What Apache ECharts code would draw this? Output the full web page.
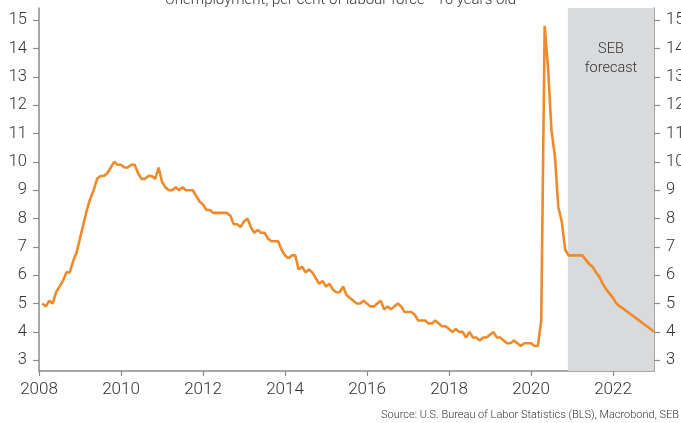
<!DOCTYPE html>
<html><head><meta charset="utf-8">
<script src="https://cdn.jsdelivr.net/npm/echarts@6/dist/echarts.min.js"></script>
<style>html,body{margin:0;padding:0;background:#fff}#c{width:681px;height:423px}</style>
</head><body><div id="c"></div>
<script>
const titleText = 'Unemployment, per cent of labour force - 16 years old';
const sourceText = 'Source: U.S. Bureau of Labor Statistics (BLS), Macrobond, SEB';
const forecastLabel = 'SEB\nforecast';
const startYear = 2008;
const rate2008 = [5.0, 4.9, 5.1, 5.0, 5.4, 5.6, 5.8, 6.1, 6.1, 6.5, 6.8, 7.3];
const rate2009 = [7.8, 8.3, 8.7, 9.0, 9.4, 9.5, 9.5, 9.6, 9.8, 10.0, 9.9, 9.9];
const rate2010 = [9.8, 9.8, 9.9, 9.9, 9.6, 9.4, 9.4, 9.5, 9.5, 9.4, 9.8, 9.3];
const rate2011 = [9.1, 9.0, 9.0, 9.1, 9.0, 9.1, 9.0, 9.0, 9.0, 8.8, 8.6, 8.5];
const rate2012 = [8.3, 8.3, 8.2, 8.2, 8.2, 8.2, 8.2, 8.1, 7.8, 7.8, 7.7, 7.9];
const rate2013 = [8.0, 7.7, 7.5, 7.6, 7.5, 7.5, 7.3, 7.2, 7.2, 7.2, 6.9, 6.7];
const rate2014 = [6.6, 6.7, 6.7, 6.2, 6.3, 6.1, 6.2, 6.1, 5.9, 5.7, 5.8, 5.6];
const rate2015 = [5.7, 5.5, 5.4, 5.4, 5.6, 5.3, 5.2, 5.1, 5.0, 5.0, 5.1, 5.0];
const rate2016 = [4.9, 4.9, 5.0, 5.1, 4.8, 4.9, 4.8, 4.9, 5.0, 4.9, 4.7, 4.7];
const rate2017 = [4.7, 4.6, 4.4, 4.4, 4.4, 4.3, 4.3, 4.4, 4.3, 4.2, 4.2, 4.1];
const rate2018 = [4.0, 4.1, 4.0, 4.0, 3.8, 4.0, 3.8, 3.8, 3.7, 3.8, 3.8, 3.9];
const rate2019 = [4.0, 3.8, 3.8, 3.7, 3.6, 3.6, 3.7, 3.6, 3.5, 3.6, 3.6, 3.6];
const rate2020 = [3.5, 3.5, 4.4, 14.8, 13.3, 11.1, 10.2, 8.4, 7.9, 6.9];
// SEB forecast, Nov 2020 - Dec 2022
const forecast = [6.7, 6.7, 6.7, 6.7, 6.7, 6.55, 6.4, 6.3, 6.1, 5.95, 5.7, 5.5, 5.35, 5.2,
                  5.0, 4.9, 4.82, 4.73, 4.64, 4.55, 4.46, 4.37, 4.28, 4.19, 4.1, 4.01];
const yTicks = [3, 4, 5, 6, 7, 8, 9, 10, 11, 12, 13, 14, 15];
const xTicks = [2008, 2010, 2012, 2014, 2016, 2018, 2020, 2022];
const forecastStart = 2020.9;
const forecastEnd = 2023;

const allValues = [].concat(rate2008, rate2009, rate2010, rate2011, rate2012, rate2013,
  rate2014, rate2015, rate2016, rate2017, rate2018, rate2019, rate2020, forecast);
const seriesData = allValues.map((v, i) => [startYear + (i + 1) / 12, v]);

const FONT = 'Roboto, "Liberation Sans", sans-serif';
const axisColor = '#8a8a8a';
const textColor = '#333';
const yMin = 2.62, yMax = 15.43;

function yAxis(pos) {
  return {
    type: 'value', position: pos, min: yMin, max: yMax,
    axisLine: {show: true, lineStyle: {color: axisColor, width: 1.5}},
    axisTick: {show: true, length: 6, customValues: yTicks, lineStyle: {color: axisColor, width: 1.2}},
    axisLabel: {customValues: yTicks, color: textColor, fontSize: 16.5, fontFamily: FONT, fontWeight: 300, margin: 12},
    splitLine: {show: false}
  };
}

const chart = echarts.init(document.getElementById('c'), null, {renderer: 'canvas'});
chart.setOption({
  animation: false,
  backgroundColor: '#fff',
  title: {
    text: titleText, left: 'center', top: -12,
    textStyle: {fontSize: 15, fontWeight: 300, color: textColor, fontFamily: FONT}
  },
  grid: {left: 39, right: 27, top: 8, bottom: 52, containLabel: false, outerBoundsMode: 'none'},
  xAxis: {
    type: 'value', min: startYear, max: forecastEnd,
    axisLine: {show: true, lineStyle: {color: axisColor, width: 1.5}},
    axisTick: {show: true, length: 5, customValues: xTicks, lineStyle: {color: axisColor, width: 1.2}},
    axisLabel: {customValues: xTicks, formatter: v => String(v), color: textColor, fontSize: 17, fontFamily: FONT, fontWeight: 300, margin: 10},
    splitLine: {show: false}
  },
  yAxis: [yAxis('left'), yAxis('right')],
  series: [{
    type: 'line', data: seriesData, showSymbol: false, symbol: 'none',
    lineStyle: {color: '#EE8A2A', width: 2.6},
    z: 5,
    markArea: {
      silent: true,
      itemStyle: {color: '#d9dadc'},
      label: {
        show: true, position: 'insideTop', distance: 32, color: textColor,
        fontSize: 14.5, lineHeight: 19, fontFamily: FONT, fontWeight: 300
      },
      data: [[{xAxis: forecastStart, name: forecastLabel}, {xAxis: forecastEnd}]]
    }
  }],
  graphic: [{
    type: 'text', right: 2, top: 410,
    style: {text: sourceText, fill: textColor, fontSize: 11, fontFamily: FONT, fontWeight: 300}
  }]
});
</script></body></html>
